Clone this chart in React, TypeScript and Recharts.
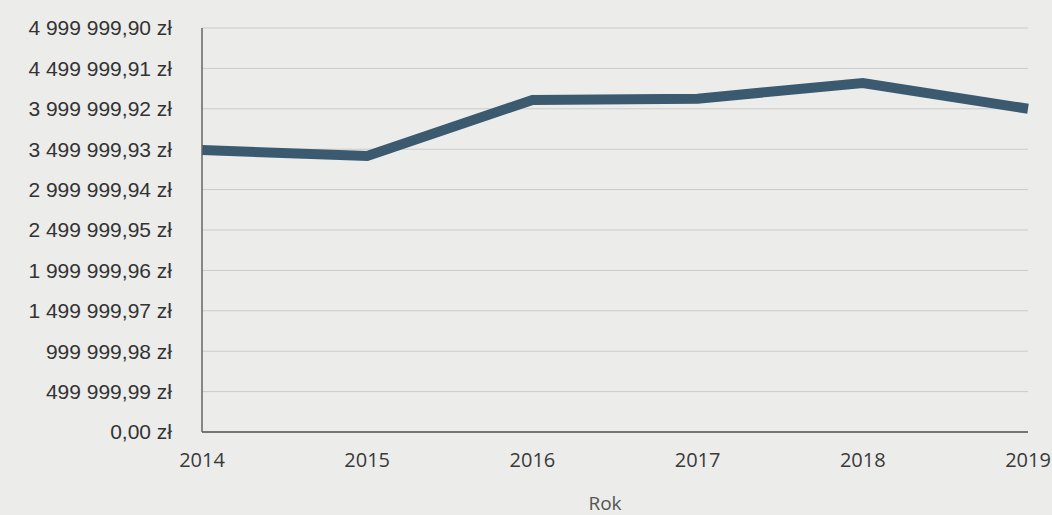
import React from 'react';
import { LineChart, Line, XAxis, YAxis, CartesianGrid } from 'recharts';

// values (PLN)
const years = ['2014', '2015', '2016', '2017', '2018', '2019'];
const amounts = [3490000, 3415000, 4110000, 4125000, 4320000, 4000000];
const yTicks = [
  0, 499999.99, 999999.98, 1499999.97, 1999999.96, 2499999.95,
  2999999.94, 3499999.93, 3999999.92, 4499999.91, 4999999.9,
];

const data = years.map((year, i) => ({ year, amount: amounts[i] }));

// Polish money format: "3 999 999,92 zł"
const formatPln = (v: number) => {
  const [int, dec] = v.toFixed(2).split('.');
  return `${int.replace(/\B(?=(\d{3})+(?!\d))/g, ' ')},${dec} zł`;
};

const App: React.FC = () => {
  return (
    <div
      style={{
        position: 'fixed',
        top: 0,
        left: 0,
        width: 1052,
        height: 515,
        background: '#ececea',
      }}
    >
      <LineChart
        width={1052}
        height={515}
        data={data}
        margin={{ top: 28, right: 24, left: 0, bottom: 0 }}
      >
        <CartesianGrid vertical={false} stroke="#cbcbc9" strokeWidth={1} />
        <XAxis
          dataKey="year"
          height={83}
          tickLine={false}
          tickSize={0}
          tickMargin={21}
          axisLine={{ stroke: '#555', strokeWidth: 1.5 }}
          tick={{ fontSize: 20, fill: '#3a3a3a', fontFamily: '"Open Sans", sans-serif' }}
          label={{
            value: 'Rok',
            position: 'insideBottom',
            offset: 5,
            dx: -10,
            fontSize: 19,
            fill: '#555',
            fontFamily: '"Open Sans", sans-serif',
          }}
        />
        <YAxis
          width={202}
          domain={[0, 4999999.9]}
          ticks={yTicks}
          interval={0}
          tickLine={false}
          tickSize={0}
          tickMargin={30}
          axisLine={{ stroke: '#666', strokeWidth: 1.5 }}
          tickFormatter={formatPln}
          tick={{ fontSize: 21, fill: '#333', fontFamily: '"Liberation Sans", Arial, sans-serif' }}
        />
        <Line
          type="linear"
          dataKey="amount"
          stroke="#3b5a70"
          strokeWidth={10}
          dot={false}
          activeDot={false}
          isAnimationActive={false}
        />
      </LineChart>
    </div>
  );
};

export default App;
